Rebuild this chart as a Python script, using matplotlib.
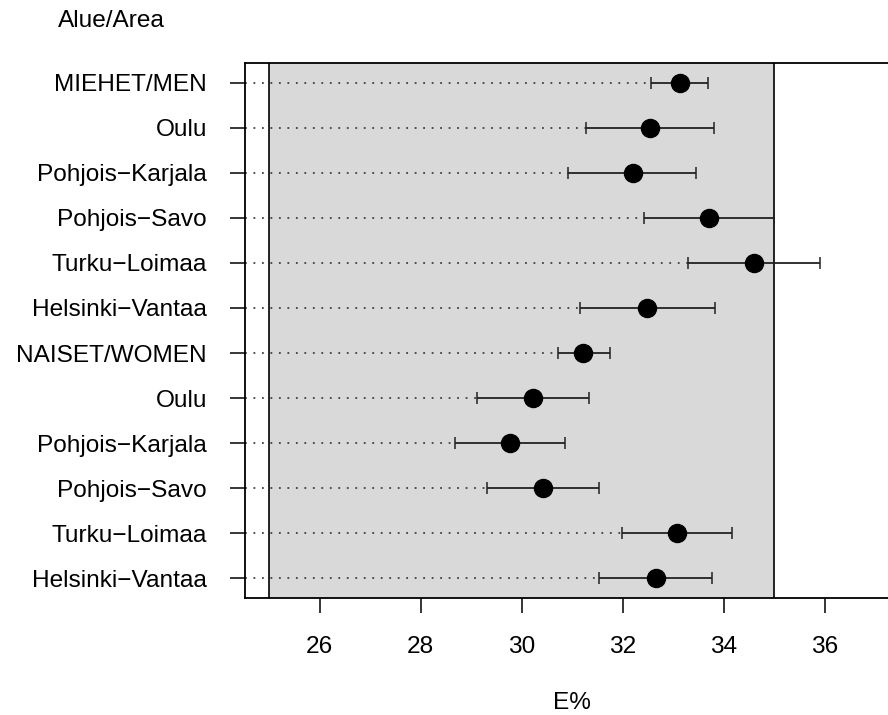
import matplotlib
matplotlib.use('Agg')
import matplotlib.pyplot as plt
import numpy as np

plt.rcParams['font.family'] = ['Liberation Sans', 'DejaVu Sans']

# rows from top to bottom
labels = ['MIEHET/MEN', 'Oulu', 'Pohjois\u2212Karjala', 'Pohjois\u2212Savo',
          'Turku\u2212Loimaa', 'Helsinki\u2212Vantaa',
          'NAISET/WOMEN', 'Oulu', 'Pohjois\u2212Karjala', 'Pohjois\u2212Savo',
          'Turku\u2212Loimaa', 'Helsinki\u2212Vantaa']
est = [33.13, 32.54, 32.20, 33.71, 34.60, 32.49,
       31.22, 30.22, 29.77, 30.43, 33.08, 32.65]
lo = [32.57, 31.27, 30.92, 32.42, 33.30, 31.15,
      30.71, 29.11, 28.67, 29.32, 31.99, 31.53]
hi = [33.68, 33.80, 33.46, 35.00, 35.91, 33.82,
      31.74, 31.33, 30.86, 31.54, 34.17, 33.76]
ref_lo, ref_hi = 25, 35
xticks = [26, 28, 30, 32, 34, 36]

W, H = 888, 715
fig = plt.figure(figsize=(W / 100, H / 100), dpi=100)
ax = fig.add_axes([245 / W, (H - 598.3) / H, (899.4 - 245) / W, (598.3 - 62.7) / H])

xmin, xmax = 25 - 0.48, 37 + 0.48
ax.set_xlim(xmin, xmax)
ax.set_ylim(0.56, 12.44)

y = np.arange(len(labels), 0, -1)
est = np.array(est)
lo = np.array(lo)
hi = np.array(hi)

ax.axvspan(ref_lo, ref_hi, color='#d9d9d9', lw=0, zorder=0)
ax.axvline(ref_lo, color='black', lw=1.2, zorder=1)
ax.axvline(ref_hi, color='black', lw=1.2, zorder=1)

# dotted guide lines up to the lower whisker
for yi, l in zip(y, lo):
    ax.plot([xmin, l], [yi, yi], color='#404040', lw=1.3,
            linestyle=(0, (1, 3.7)), zorder=2)

ax.errorbar(est, y, xerr=[est - lo, hi - est], fmt='none', ecolor='#222222',
            elinewidth=1.3, capsize=4.3, capthick=1.1, zorder=3)
ax.plot(est, y, 'o', color='black', markersize=13, zorder=4)

ax.set_yticks(y)
ax.set_yticklabels(labels)
ax.set_xticks(xticks)
ax.tick_params(axis='both', labelsize=17.6, length=10.8, width=1.1, direction='out')
ax.tick_params(axis='y', pad=16.5)
ax.tick_params(axis='x', pad=16)
for s in ax.spines.values():
    s.set_linewidth(1.3)

fig.text(58 / W, 1 - 21 / H, 'Alue/Area', fontsize=17.6, ha='left', va='center')
fig.text((245 + 899.4) / 2 / W, 1 - 703 / H, 'E%', fontsize=17.6, ha='center', va='center')

fig.savefig('out.png', dpi=100)
